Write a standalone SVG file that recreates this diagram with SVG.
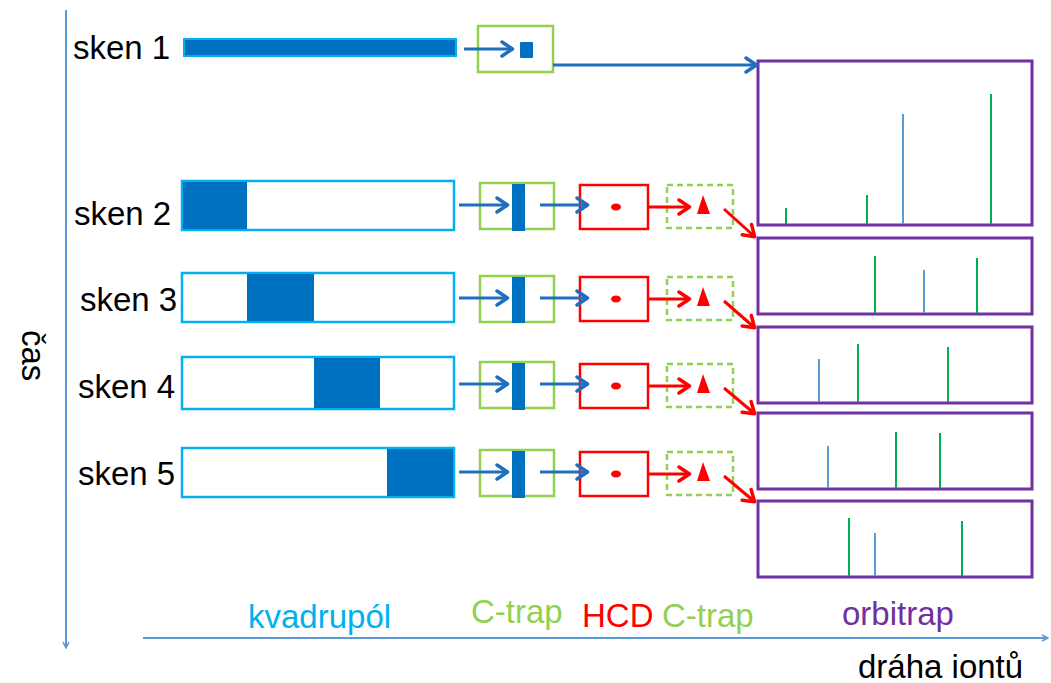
<svg xmlns="http://www.w3.org/2000/svg" width="1051" height="683" viewBox="0 0 1051 683">
<style>
text{font-family:"Liberation Sans",Arial,sans-serif;font-size:33px}
.lbl{fill:#000}
.quad{fill:#fff;stroke:#00B0F0;stroke-width:2.5}
.fillq{fill:#0070C0}
.ctrap{fill:#fff;stroke:#92D050;stroke-width:2.5}
.ctrapd{fill:none;stroke:#92D050;stroke-width:2.5;stroke-dasharray:6 4}
.hcd{fill:#fff;stroke:#FF0000;stroke-width:2.5}
.orb{fill:#fff;stroke:#7030A0;stroke-width:3}
.ab{fill:none;stroke:#1F6FBF;stroke-width:3;marker-end:url(#mb)}
.ar{fill:none;stroke:#FF0000;stroke-width:3;marker-end:url(#mr)}
.axis{fill:none;stroke:#5B9BD5;stroke-width:2}
.pg{stroke:#00B050;stroke-width:2}
.pb{stroke:#5B9BD5;stroke-width:2}
</style>
<defs>
<marker id="mb" viewBox="0 0 15 18" refX="13" refY="9" markerWidth="15" markerHeight="18" markerUnits="userSpaceOnUse" orient="auto"><path d="M2,2 L12.5,9 L2,16" fill="none" stroke="#1F6FBF" stroke-width="3.5" stroke-linecap="round" stroke-linejoin="round"/></marker>
<marker id="mr" viewBox="0 0 15 18" refX="13" refY="9" markerWidth="15" markerHeight="18" markerUnits="userSpaceOnUse" orient="auto"><path d="M2,2 L12.5,9 L2,16" fill="none" stroke="#FF0000" stroke-width="3.5" stroke-linecap="round" stroke-linejoin="round"/></marker>
<marker id="ma" viewBox="0 0 8 8" refX="7" refY="4" markerWidth="8" markerHeight="8" markerUnits="userSpaceOnUse" orient="auto"><path d="M1,1 L7,4 L1,7" fill="none" stroke="#5B9BD5" stroke-width="1.5"/></marker>
</defs>
<rect width="1051" height="683" fill="#fff"/>

<g id="axes">
<line class="axis" x1="66" y1="10" x2="66" y2="648" marker-end="url(#ma)"/>
<line class="axis" x1="143" y1="638" x2="1048" y2="638" marker-end="url(#ma)"/>
<text class="lbl" transform="translate(22,330) rotate(90)">čas</text>
<text class="lbl" x="858" y="678">dráha iontů</text>
</g>

<g id="labels">
<text x="248" y="628" fill="#00B0F0">kvadrupól</text>
<text x="471" y="623" fill="#92D050">C-trap</text>
<text x="582" y="627" fill="#FF0000">HCD</text>
<text x="662" y="627" fill="#92D050">C-trap</text>
<text x="842" y="625" fill="#7030A0">orbitrap</text>
</g>

<g id="scan1">
<text class="lbl" x="73" y="59">sken 1</text>
<rect x="184" y="39" width="272" height="17" fill="#0070C0" stroke="#00B0F0" stroke-width="2"/>
<rect class="ctrap" x="478" y="26" width="75" height="46"/>
<rect x="520" y="42" width="13" height="16" fill="#0070C0" rx="1"/>
</g>

<g id="scan2">
<text class="lbl" x="74" y="225">sken 2</text>
<rect class="quad" x="182" y="181" width="272" height="49"/>
<rect class="fillq" x="183" y="182" width="64" height="47"/>
<rect class="ctrap" x="480" y="183" width="74" height="46"/>
<rect class="fillq" x="512" y="184" width="13" height="47"/>
<rect class="hcd" x="580" y="185" width="68" height="44"/>
<ellipse cx="616" cy="207" rx="5" ry="3.5" fill="#FF0000"/>
<rect class="ctrapd" x="667" y="185" width="66" height="43"/>
<polygon points="703,195 710,214 697,214" fill="#FF0000"/>
</g>

<g id="scan3" transform="translate(0,92)">
<text class="lbl" x="80" y="219">sken 3</text>
<rect class="quad" x="182" y="181" width="272" height="49"/>
<rect class="fillq" x="247" y="182" width="67" height="47"/>
<rect class="ctrap" x="480" y="184" width="74" height="46"/>
<rect class="fillq" x="512" y="185" width="13" height="46"/>
<rect class="hcd" x="580" y="185" width="68" height="44"/>
<ellipse cx="616" cy="207" rx="5" ry="3.5" fill="#FF0000"/>
<rect class="ctrapd" x="667" y="185" width="66" height="43"/>
<polygon points="703,195 710,214 697,214" fill="#FF0000"/>
</g>

<g id="scan4" transform="translate(0,179)">
<text class="lbl" x="78" y="219">sken 4</text>
<rect class="quad" x="182" y="178" width="272" height="52"/>
<rect class="fillq" x="314" y="179" width="66" height="50"/>
<rect class="ctrap" x="480" y="183" width="74" height="46"/>
<rect class="fillq" x="512" y="184" width="13" height="47"/>
<rect class="hcd" x="580" y="185" width="68" height="44"/>
<ellipse cx="616" cy="207" rx="5" ry="3.5" fill="#FF0000"/>
<rect class="ctrapd" x="667" y="185" width="66" height="43"/>
<polygon points="703,195 710,214 697,214" fill="#FF0000"/>
</g>

<g id="scan5" transform="translate(0,267)">
<text class="lbl" x="78" y="218">sken 5</text>
<rect class="quad" x="182" y="181" width="272" height="49"/>
<rect class="fillq" x="387" y="182" width="66" height="47"/>
<rect class="ctrap" x="480" y="183" width="74" height="46"/>
<rect class="fillq" x="512" y="184" width="13" height="47"/>
<rect class="hcd" x="580" y="185" width="68" height="44"/>
<ellipse cx="616" cy="207" rx="5" ry="3.5" fill="#FF0000"/>
<rect class="ctrapd" x="667" y="185" width="66" height="43"/>
<polygon points="703,195 710,214 697,214" fill="#FF0000"/>
</g>

<g id="orbitrap1">
<rect class="orb" x="758" y="61" width="274" height="164"/>
<line class="pg" x1="786" y1="208" x2="786" y2="224"/>
<line class="pg" x1="867" y1="195" x2="867" y2="224"/>
<line class="pb" x1="903" y1="114" x2="903" y2="224"/>
<line class="pg" x1="991" y1="94" x2="991" y2="224"/>
</g>
<g id="orbitrap2">
<rect class="orb" x="758" y="238" width="274" height="76"/>
<line class="pg" x1="875" y1="256" x2="875" y2="313"/>
<line class="pb" x1="924" y1="270" x2="924" y2="313"/>
<line class="pg" x1="977" y1="258" x2="977" y2="313"/>
</g>
<g id="orbitrap3">
<rect class="orb" x="758" y="327" width="274" height="76"/>
<line class="pb" x1="819" y1="359" x2="819" y2="402"/>
<line class="pg" x1="858" y1="344" x2="858" y2="402"/>
<line class="pg" x1="948" y1="347" x2="948" y2="402"/>
</g>
<g id="orbitrap4">
<rect class="orb" x="758" y="413" width="274" height="76"/>
<line class="pb" x1="828" y1="446" x2="828" y2="488"/>
<line class="pg" x1="896" y1="432" x2="896" y2="488"/>
<line class="pg" x1="940" y1="433" x2="940" y2="488"/>
</g>
<g id="orbitrap5">
<rect class="orb" x="758" y="501" width="274" height="76"/>
<line class="pg" x1="849" y1="518" x2="849" y2="576"/>
<line class="pb" x1="875" y1="533" x2="875" y2="576"/>
<line class="pg" x1="962" y1="521" x2="962" y2="576"/>
</g>

<g id="connectors">
<line class="ab" x1="464" y1="49" x2="513" y2="49"/>
<line class="ab" x1="553" y1="65" x2="757" y2="65"/>
<line class="ab" x1="459" y1="205" x2="508" y2="205"/>
<line class="ab" x1="540" y1="205" x2="588" y2="205"/>
<line class="ar" x1="648" y1="207" x2="690" y2="207"/>
<line class="ar" x1="724" y1="209" x2="755" y2="237"/>
<line class="ab" x1="459" y1="298" x2="508" y2="298"/>
<line class="ab" x1="540" y1="298" x2="588" y2="298"/>
<line class="ar" x1="648" y1="299" x2="690" y2="299"/>
<line class="ar" x1="724" y1="301" x2="755" y2="328"/>
<line class="ab" x1="459" y1="384" x2="508" y2="384"/>
<line class="ab" x1="540" y1="384" x2="588" y2="384"/>
<line class="ar" x1="648" y1="386" x2="690" y2="386"/>
<line class="ar" x1="724" y1="388" x2="755" y2="414"/>
<line class="ab" x1="459" y1="472" x2="508" y2="472"/>
<line class="ab" x1="540" y1="472" x2="588" y2="472"/>
<line class="ar" x1="648" y1="474" x2="690" y2="474"/>
<line class="ar" x1="724" y1="476" x2="755" y2="502"/>
</g>
</svg>
